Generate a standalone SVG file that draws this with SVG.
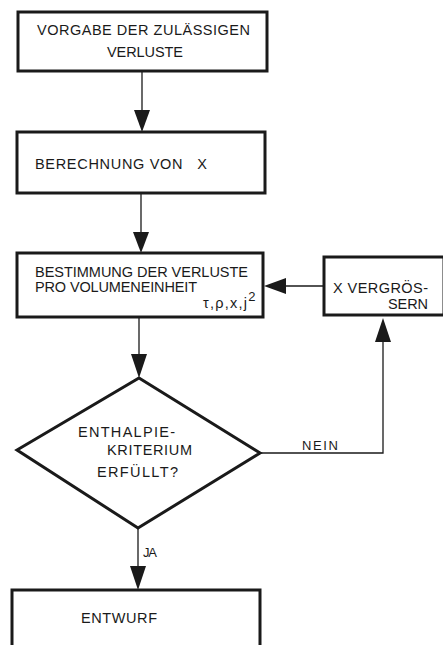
<svg xmlns="http://www.w3.org/2000/svg" width="443" height="645" viewBox="0 0 443 645">
<style>
.box{fill:#fff;stroke:#1a1a1a;stroke-width:3}
.dia{fill:#fff;stroke:#1a1a1a;stroke-width:3;stroke-linejoin:miter}
.con{fill:none;stroke:#1a1a1a;stroke-width:1.3}
.ah{fill:#1a1a1a}
text{font-family:"Liberation Sans","DejaVu Sans",sans-serif;font-size:14.5px;fill:#1a1a1a}
.sm{font-size:13px}
</style>
<rect width="443" height="645" fill="#fff"/>
<g id="connectors">
<line class="con" x1="142" y1="71" x2="142" y2="112"/>
<polygon class="ah" points="134,110 150,110 142,132"/>
<line class="con" x1="141" y1="193" x2="141" y2="234"/>
<polygon class="ah" points="133,232 149,232 141,253"/>
<line class="con" x1="139" y1="317" x2="139" y2="356"/>
<polygon class="ah" points="131,354 147,354 139,378"/>
<line class="con" x1="324" y1="286" x2="284" y2="286"/>
<polygon class="ah" points="286,278 286,294 264,286"/>
<polyline class="con" points="260,453 383,453 383,340"/>
<polygon class="ah" points="375,342 391,342 383,318"/>
<line class="con" x1="138" y1="528" x2="138" y2="568"/>
<polygon class="ah" points="130,566 146,566 138,590"/>
<text class="sm" x="302" y="450" textLength="36" lengthAdjust="spacing">NEIN</text>
<text class="sm" x="143" y="557" textLength="14" lengthAdjust="spacing">JA</text>
</g>
<g id="n1">
<rect class="box" x="18" y="12" width="249" height="59"/>
<text x="37" y="35" textLength="213" lengthAdjust="spacing">VORGABE DER ZULÄSSIGEN</text>
<text x="107" y="57" textLength="76" lengthAdjust="spacing">VERLUSTE</text>
</g>
<g id="n2">
<rect class="box" x="17" y="132" width="248" height="61"/>
<text x="35" y="169" textLength="172" lengthAdjust="spacing" xml:space="preserve">BERECHNUNG VON   X</text>
</g>
<g id="n3">
<rect class="box" x="17" y="253" width="246" height="64"/>
<text x="35" y="277" textLength="213" lengthAdjust="spacing">BESTIMMUNG DER VERLUSTE</text>
<text x="35" y="292" textLength="162" lengthAdjust="spacing">PRO VOLUMENEINHEIT</text>
<text x="203" y="308" font-family="'DejaVu Serif',serif" font-size="17px"><tspan textLength="44" lengthAdjust="spacing">τ,ρ,x,j</tspan><tspan font-family="'Liberation Sans',sans-serif" font-size="13px" dy="-7">2</tspan></text>
</g>
<g id="n4">
<rect class="box" x="324" y="257" width="120" height="58"/>
<text x="333" y="293" textLength="95" lengthAdjust="spacing">X VERGRÖS-</text>
<text x="388" y="309" textLength="40" lengthAdjust="spacing">SERN</text>
</g>
<g id="n5">
<polygon class="dia" points="139,378 260,453 138,528 17,450"/>
<text x="78" y="437" textLength="97" lengthAdjust="spacing">ENTHALPIE-</text>
<text x="107" y="455" textLength="85" lengthAdjust="spacing">KRITERIUM</text>
<text x="97" y="477" textLength="81" lengthAdjust="spacing">ERFÜLLT?</text>
</g>
<g id="n6">
<polyline class="box" points="12,650 12,590 260,590 260,650"/>
<text x="81" y="623" textLength="76" lengthAdjust="spacing">ENTWURF</text>
</g>
</svg>
